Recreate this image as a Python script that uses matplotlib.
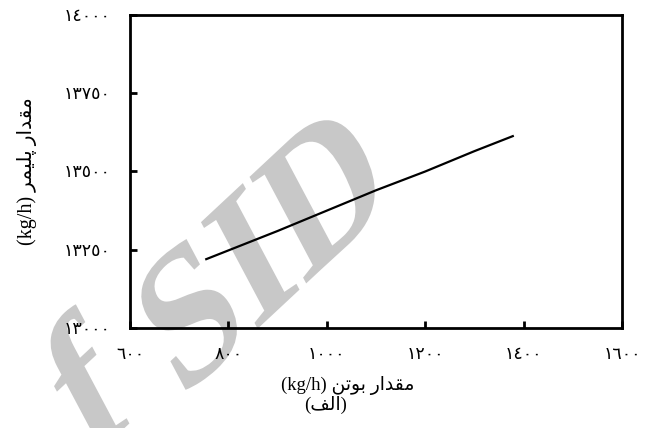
import matplotlib
matplotlib.use("Agg")
import matplotlib.pyplot as plt
from matplotlib.textpath import TextPath
from matplotlib.patches import PathPatch
from matplotlib.font_manager import FontProperties
from matplotlib.transforms import Affine2D, IdentityTransform

plt.rcParams["font.family"] = ["Liberation Serif", "DejaVu Sans"]

# data
butene = [755, 900, 1000, 1100, 1200, 1300, 1378]
polymer = [13220, 13310, 13375, 13440, 13500, 13565, 13613]

x_ticks = [600, 800, 1000, 1200, 1400, 1600]
y_ticks = [13000, 13250, 13500, 13750, 14000]

AR_DIGITS = str.maketrans("0123456789", "٠١٢٣٤٥٦٧٨٩")


def ar(n):
    return str(n).translate(AR_DIGITS)


# Arabic words written in visual (left-to-right) order with presentation forms,
# since matplotlib does no shaping or bidi
MEGHDAR = "\ufead\ufe8d\ufeaa\ufed8\ufee3"      # مقدار
BUTEN = "\ufee6\ufe97\ufeee\ufe91"              # بوتن
POLYMER = "\ufeae\ufee4\ufef4\ufee0\ufb58"      # پلیمر
ALEF = "\ufed2\ufedf\ufe8d"                     # الف


def watermark(fig, s, center, size=178):
    """Slanted grey watermark letters, centred on a pixel position."""
    prop = FontProperties(family="Liberation Serif", weight="bold")
    tp = TextPath((0, 0), s, size=size, prop=prop)
    path = Affine2D().skew_deg(15, 0).rotate_deg(43).transform_path(tp)
    ext = path.get_extents()
    cx, cy = (ext.x0 + ext.x1) / 2, (ext.y0 + ext.y1) / 2
    path = Affine2D().translate(center[0] - cx, center[1] - cy).transform_path(path)
    fig.add_artist(PathPatch(path, transform=IdentityTransform(),
                             facecolor="#c8c8c8", lw=0, zorder=-1))


fig = plt.figure(figsize=(6.48, 4.28), dpi=100)
ax = fig.add_axes([0.2006, 0.2336, 0.7593, 0.7314])
ax.set_facecolor("none")

watermark(fig, "SID", (258, 428 - 255))
watermark(fig, "f", (90, 428 - 380))

ax.plot(butene, polymer, color="black", linewidth=1.6, zorder=3)

ax.set_xlim(600, 1600)
ax.set_ylim(13000, 14000)
ax.set_xticks(x_ticks)
ax.set_xticklabels([ar(v) for v in x_ticks])
ax.set_yticks(y_ticks)
ax.set_yticklabels([ar(v) for v in y_ticks])

for s in ax.spines.values():
    s.set_linewidth(2)
ax.tick_params(direction="in", length=5, width=2, labelsize=12.5, pad=14)

fig.text(0.537, 0.10, "(kg/h) " + BUTEN + " " + MEGHDAR,
         ha="center", va="center", fontsize=13.5)
fig.text(0.503, 0.054, "(" + ALEF + ")", ha="center", va="center", fontsize=13.5)
fig.text(0.042, 0.60, "(kg/h) " + POLYMER + " " + MEGHDAR, rotation=90,
         ha="center", va="center", fontsize=14.5)

fig.savefig("out.png", dpi=100)
